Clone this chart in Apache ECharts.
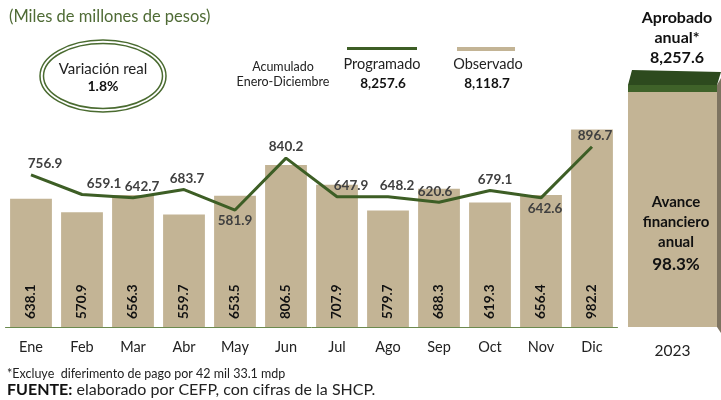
<!DOCTYPE html>
<html>
<head>
<meta charset="utf-8">
<script src="https://cdn.jsdelivr.net/npm/echarts@6/dist/echarts.min.js"></script>
<style>
  html, body { margin: 0; padding: 0; background: #ffffff; }
  #chart { width: 721px; height: 400px; }
</style>
</head>
<body>
<div id="chart"></div>
<script>
// datos (miles de millones de pesos)
const meses = ['Ene', 'Feb', 'Mar', 'Abr', 'May', 'Jun', 'Jul', 'Ago', 'Sep', 'Oct', 'Nov', 'Dic'];
const observado = [638.1, 570.9, 656.3, 559.7, 653.5, 806.5, 707.9, 579.7, 688.3, 619.3, 656.4, 982.2];
const programado = [756.9, 659.1, 642.7, 683.7, 581.9, 840.2, 647.9, 648.2, 620.6, 679.1, 642.6, 896.7];
const anio = ['2023'];
const aprobadoAnual = [8257.6];
const totalProgramado = 8257.6;
const totalObservado = 8118.7;
const variacionReal = 1.8;
const avanceAnual = 98.3;

// ajustes de etiquetas de la linea (posicion, desplazamiento x)
const etiquetaPos = ['top', 'top', 'top', 'top', 'bottom', 'top', 'top', 'top', 'top', 'top', 'bottom', 'top'];
const etiquetaDx = [14, 22, 9, 3, 0, 0, 14, 9, -4, 5, 4, 3];

const fmt = function (v) {
  return v.toLocaleString('en-US', {minimumFractionDigits: 1, maximumFractionDigits: 1});
};

const verde = '#3D5E25';
const tan = '#C3B495';
const fuente = 'Lato';

let myChart = echarts.init(document.getElementById('chart'));

myChart.setOption({
  backgroundColor: '#ffffff',
  animation: false,
  textStyle: {fontFamily: fuente},
  grid: [
    {left: 5.5, right: 103.5, top: 126, bottom: 73},
    {left: 628, right: 4, top: 85, bottom: 73}
  ],
  xAxis: [
    {
      type: 'category',
      gridIndex: 0,
      data: meses,
      axisTick: {show: false},
      axisLine: {lineStyle: {color: '#6B8A4E', width: 1}},
      axisLabel: {color: '#222', fontSize: 14.5, margin: 13, fontFamily: fuente}
    },
    {
      type: 'category',
      gridIndex: 1,
      data: anio,
      axisTick: {show: false},
      axisLine: {show: false},
      axisLabel: {color: '#222', fontSize: 15.5, margin: 16, fontFamily: fuente}
    }
  ],
  yAxis: [
    {type: 'value', gridIndex: 0, min: 0, max: 1000, show: false},
    {type: 'value', gridIndex: 1, min: 0, max: 8257.6, show: false}
  ],
  series: [
    {
      name: 'Observado',
      type: 'bar',
      xAxisIndex: 0,
      yAxisIndex: 0,
      data: observado,
      barCategoryGap: '18%',
      itemStyle: {color: tan},
      label: {
        show: true,
        position: 'insideBottom',
        rotate: 90,
        align: 'left',
        verticalAlign: 'middle',
        distance: 8,
        color: '#111',
        fontWeight: 'bold',
        fontSize: 13.5,
        fontFamily: fuente,
        formatter: function (p) { return fmt(p.value); }
      },
      z: 2
    },
    {
      name: 'Programado',
      type: 'line',
      xAxisIndex: 0,
      yAxisIndex: 0,
      data: programado.map(function (v, i) {
        return {
          value: v,
          label: {position: etiquetaPos[i], offset: [etiquetaDx[i], 0]}
        };
      }),
      symbol: 'circle',
      symbolSize: 0.1,
      lineStyle: {color: verde, width: 3},
      itemStyle: {color: verde},
      label: {
        show: true,
        distance: 4,
        color: '#404040',
        fontWeight: 'bold',
        fontSize: 13.5,
        fontFamily: fuente,
        formatter: function (p) { return fmt(p.value); }
      },
      z: 5
    },
    {
      name: 'Aprobado anual',
      type: 'custom',
      xAxisIndex: 1,
      yAxisIndex: 1,
      data: aprobadoAnual.map(function (v, i) { return [i, v]; }),
      renderItem: function (params, api) {
        let top = api.coord([api.value(0), api.value(1)]);
        let base = api.coord([api.value(0), 0]);
        let w = api.size([1, 0])[0];
        let x0 = top[0] - w / 2;
        let x1 = top[0] + w / 2;
        return {
          type: 'group',
          children: [
            {type: 'polygon', shape: {points: [[x1, top[1]], [x1 + 4, top[1] - 7], [x1 + 4, base[1] + 6], [x1, base[1]]]},
              style: {fill: '#7D7360'}},
            {type: 'rect', shape: {x: x0, y: top[1], width: w, height: base[1] - top[1]},
              style: {fill: tan}},
            {type: 'rect', shape: {x: x0, y: top[1], width: w, height: 7},
              style: {fill: '#3F6229'}},
            {type: 'polygon', shape: {points: [[x0, top[1]], [x0 + 4, top[1] - 15], [x1 + 4, top[1] - 13], [x1, top[1]]]},
              style: {fill: '#2D4A1E'}}
          ]
        };
      },
      z: 2
    }
  ],
  graphic: [
    {type: 'text', left: 9, top: 8,
      style: {text: '(Miles de millones de pesos)', fill: '#4F6B35', fontSize: 16.5, fontFamily: fuente}},
    {type: 'ellipse', shape: {cx: 103, cy: 76, rx: 63, ry: 36},
      style: {fill: 'none', stroke: '#4A6B30', lineWidth: 1.5}},
    {type: 'ellipse', shape: {cx: 103, cy: 76, rx: 59.5, ry: 32.5},
      style: {fill: 'none', stroke: '#4A6B30', lineWidth: 1.5}},
    {type: 'text', x: 103, y: 69,
      style: {text: 'Variación real', fill: '#222', fontSize: 15, fontFamily: fuente, align: 'center', verticalAlign: 'middle'}},
    {type: 'text', x: 103, y: 86,
      style: {text: variacionReal.toFixed(1) + '%', fill: '#111', fontSize: 14, fontWeight: 'bold', fontFamily: fuente, align: 'center', verticalAlign: 'middle'}},
    {type: 'text', x: 283, y: 67,
      style: {text: 'Acumulado', fill: '#222', fontSize: 12.5, fontFamily: fuente, align: 'center', verticalAlign: 'middle'}},
    {type: 'text', x: 283, y: 82,
      style: {text: 'Enero-Diciembre', fill: '#222', fontSize: 12.5, fontFamily: fuente, align: 'center', verticalAlign: 'middle'}},
    {type: 'rect', shape: {x: 347, y: 47, width: 70, height: 3}, style: {fill: verde}},
    {type: 'text', x: 382, y: 64,
      style: {text: 'Programado', fill: '#222', fontSize: 14.5, fontFamily: fuente, align: 'center', verticalAlign: 'middle'}},
    {type: 'text', x: 383, y: 84,
      style: {text: fmt(totalProgramado), fill: '#111', fontSize: 13.5, fontWeight: 'bold', fontFamily: fuente, align: 'center', verticalAlign: 'middle'}},
    {type: 'rect', shape: {x: 457, y: 47, width: 58, height: 4}, style: {fill: tan}},
    {type: 'text', x: 488, y: 64,
      style: {text: 'Observado', fill: '#222', fontSize: 14.5, fontFamily: fuente, align: 'center', verticalAlign: 'middle'}},
    {type: 'text', x: 487, y: 84,
      style: {text: fmt(totalObservado), fill: '#111', fontSize: 13.5, fontWeight: 'bold', fontFamily: fuente, align: 'center', verticalAlign: 'middle'}},
    {type: 'text', x: 677, y: 38,
      style: {text: 'Aprobado\nanual*\n' + fmt(aprobadoAnual[0]), fill: '#111', fontSize: 16, fontWeight: 'bold', lineHeight: 20,
        fontFamily: fuente, align: 'center', verticalAlign: 'middle'}},
    {type: 'text', x: 676, y: 222, z: 10,
      style: {text: 'Avance\nfinanciero\nanual', fill: '#111', fontSize: 15, fontWeight: 'bold', lineHeight: 20,
        fontFamily: fuente, align: 'center', verticalAlign: 'middle'}},
    {type: 'text', x: 676, y: 265, z: 10,
      style: {text: avanceAnual.toFixed(1) + '%', fill: '#111', fontSize: 17, fontWeight: 'bold',
        fontFamily: fuente, align: 'center', verticalAlign: 'middle'}},
    {type: 'text', left: 7, top: 367,
      style: {text: '*Excluye  diferimento de pago por 42 mil 33.1 mdp', fill: '#222', fontSize: 12.5, fontFamily: fuente}},
    {type: 'text', left: 7, top: 382,
      style: {text: '{b|FUENTE:} elaborado por CEFP, con cifras de la SHCP.', fill: '#222', fontSize: 16, fontFamily: fuente,
        rich: {b: {fontWeight: 'bold', fontSize: 16, fill: '#111', fontFamily: fuente}}}}
  ]
});
</script>
</body>
</html>
